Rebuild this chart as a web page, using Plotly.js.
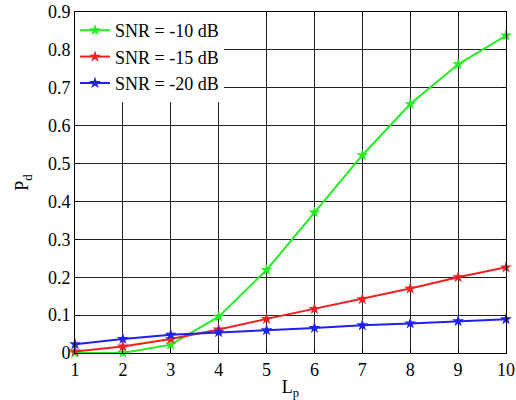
<!DOCTYPE html>
<html>
<head>
<meta charset="utf-8">
<script src="https://cdn.plot.ly/plotly-3.0.1.min.js"></script>
<style>html,body{margin:0;padding:0;background:#fff;}#chart{width:516px;height:400px;}</style>
</head>
<body>
<div id="chart"></div>
<script>
const lp = [1, 2, 3, 4, 5, 6, 7, 8, 9, 10];
const snr10 = [0.0, 0.0, 0.022, 0.096, 0.219, 0.371, 0.522, 0.657, 0.762, 0.838];
const snr15 = [0.004, 0.017, 0.037, 0.062, 0.09, 0.116, 0.142, 0.17, 0.2, 0.226];
const snr20 = [0.023, 0.037, 0.048, 0.055, 0.06, 0.066, 0.073, 0.078, 0.084, 0.089];
const yTicks = [0, 0.1, 0.2, 0.3, 0.4, 0.5, 0.6, 0.7, 0.8, 0.9];
const yTickText = ['0', '0.1', '0.2', '0.3', '0.4', '0.5', '0.6', '0.7', '0.8', '0.9'];
const names = ['SNR = -10 dB', 'SNR = -15 dB', 'SNR = -20 dB'];
const colors = ['#22ee22', '#ee2020', '#2020ee'];
const series = [snr10, snr15, snr20];

const FONT = 'Liberation Serif, Times New Roman, serif';

const traces = series.map((s, i) => ({
  x: lp, y: s, name: names[i], type: 'scatter', mode: 'lines+markers',
  line: {color: colors[i], width: 2},
  marker: {symbol: 'star', size: 9, color: colors[i]},
  cliponaxis: false
}));

const axisBase = {
  showline: true, linecolor: '#000', linewidth: 1, mirror: 'allticks',
  ticks: 'inside', ticklen: 4, tickcolor: '#000',
  showgrid: true, gridcolor: '#222', gridwidth: 1, zeroline: false,
  ticklabeloverflow: 'allow',
  tickfont: {family: FONT, size: 18, color: '#000'}
};

const layout = {
  width: 516, height: 400,
  font: {family: FONT, size: 18, color: '#000'},
  margin: {l: 75, r: 10, t: 12, b: 47},
  paper_bgcolor: '#fff', plot_bgcolor: '#fff',
  showlegend: true,
  legend: {x: 0, y: 1, xanchor: 'left', yanchor: 'top', bgcolor: '#fff',
    borderwidth: 0, font: {family: FONT, size: 18, color: '#000'},
    tracegroupgap: 0},
  xaxis: Object.assign({}, axisBase, {range: [0.9999, 10.0001], tickvals: lp, ticktext: lp.map(String),
    title: {text: 'L<sub>p</sub>', font: {family: FONT, size: 18, color: '#000'}, standoff: 4}}),
  yaxis: Object.assign({}, axisBase, {range: [-0.0001, 0.9001], tickvals: yTicks, ticktext: yTickText,
    title: {text: 'P<sub>d</sub>', font: {family: FONT, size: 18, color: '#000'}, standoff: 14}})
};

Plotly.newPlot('chart', traces, layout, {displayModeBar: false, staticPlot: true});
</script>
</body>
</html>
